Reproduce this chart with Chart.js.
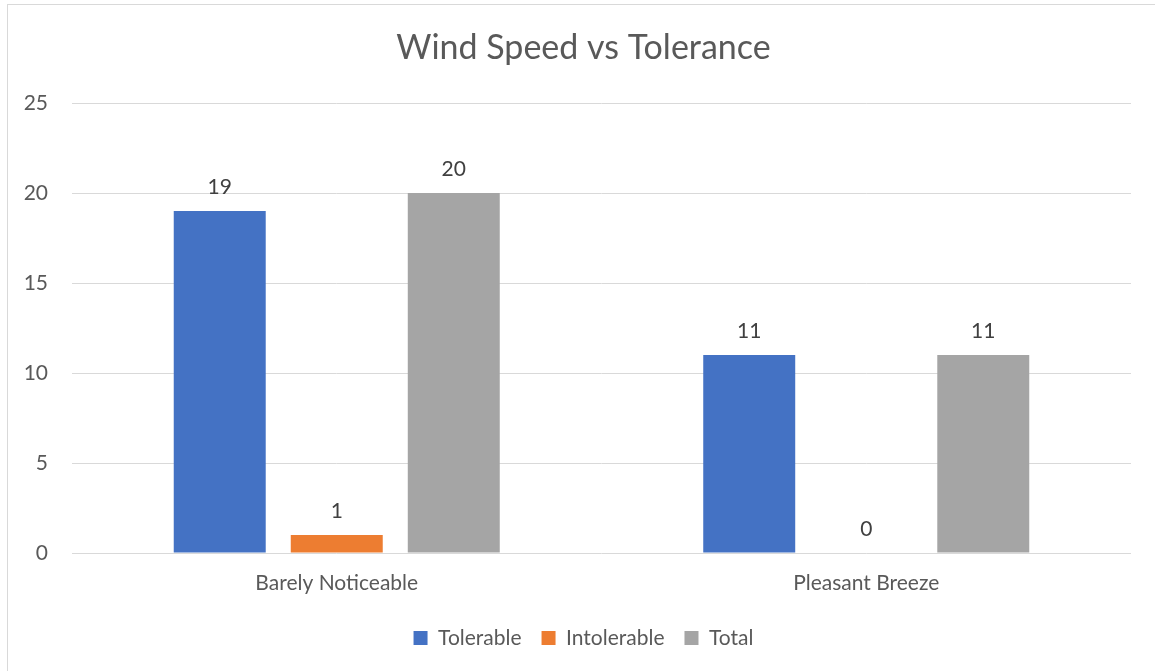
<!DOCTYPE html>
<html>
<head>
<meta charset="utf-8">
<script src="https://cdn.jsdelivr.net/npm/chart.js@4/dist/chart.umd.min.js"></script>
<style>
  html, body { margin: 0; padding: 0; background: #ffffff; }
  #wrap { position: relative; width: 1155px; height: 671px; }
</style>
</head>
<body>
<div id="wrap"><canvas id="c" width="1155" height="671"></canvas></div>
<script>
const categories = ['Barely Noticeable', 'Pleasant Breeze'];
const tolerable = [19, 11];
const intolerable = [1, 0];
const total = [20, 11];
const yTicks = [0, 5, 10, 15, 20, 25];

const FONT = 'Lato, "Open Sans", sans-serif';
const TEXT = '#595959';

// Light frame around the chart object
const framePlugin = {
  id: 'frame',
  beforeDraw(chart) {
    const ctx = chart.ctx;
    ctx.save();
    ctx.strokeStyle = '#d9d9d9';
    ctx.lineWidth = 1;
    ctx.strokeRect(7.5, 4.5, 2000, 2000);
    ctx.restore();
  }
};

// Value labels above each bar
const valueLabels = {
  id: 'valueLabels',
  afterDatasetsDraw(chart) {
    const ctx = chart.ctx;
    ctx.save();
    ctx.font = '21px ' + FONT;
    ctx.fillStyle = '#404040';
    ctx.textAlign = 'center';
    ctx.textBaseline = 'middle';
    chart.data.datasets.forEach((ds, i) => {
      const meta = chart.getDatasetMeta(i);
      meta.data.forEach((el, j) => {
        ctx.fillText(String(ds.data[j]), el.x, el.y - 24);
      });
    });
    ctx.restore();
  }
};

new Chart(document.getElementById('c'), {
  type: 'bar',
  data: {
    labels: categories,
    datasets: [
      { label: 'Tolerable', data: tolerable, backgroundColor: '#4472C4' },
      { label: 'Intolerable', data: intolerable, backgroundColor: '#ED7D31' },
      { label: 'Total', data: total, backgroundColor: '#A5A5A5' }
    ]
  },
  options: {
    responsive: false,
    animation: false,
    devicePixelRatio: 1,
    categoryPercentage: 0.663,
    barPercentage: 0.786,
    layout: { padding: { left: 12, right: 0, top: 0, bottom: 12.5 } },
    plugins: {
      title: {
        display: true,
        text: 'Wind Speed vs Tolerance',
        color: TEXT,
        font: { family: FONT, size: 34, weight: 'normal', lineHeight: 1.2 },
        padding: { top: 27.6, bottom: 34.6 }
      },
      legend: {
        position: 'bottom',
        labels: {
          color: TEXT,
          font: { family: FONT, size: 21 },
          boxWidth: 14,
          boxHeight: 14,
          padding: 20
        }
      },
      tooltip: { enabled: false }
    },
    scales: {
      x: {
        grid: { display: false, drawTicks: false },
        border: { display: false },
        ticks: { color: TEXT, font: { family: FONT, size: 21 }, padding: 17.5 },
        afterFit(scale) { scale.height = 54.5; }
      },
      y: {
        min: 0,
        max: 25,
        afterBuildTicks(scale) { scale.ticks = yTicks.map(v => ({ value: v })); },
        grid: { color: '#d9d9d9', lineWidth: 1, drawTicks: false },
        border: { display: false },
        ticks: { color: TEXT, font: { family: FONT, size: 21 }, padding: 24 },
        afterFit(scale) { scale.width = 60; }
      },
      // empty right-hand spacer that keeps the plot clear of the right edge
      spacer: {
        type: 'linear',
        position: 'right',
        display: true,
        grid: { display: false, drawTicks: false },
        border: { display: false },
        ticks: { display: false },
        afterFit(scale) { scale.width = 24; }
      }
    }
  },
  plugins: [framePlugin, valueLabels]
});
</script>
</body>
</html>
